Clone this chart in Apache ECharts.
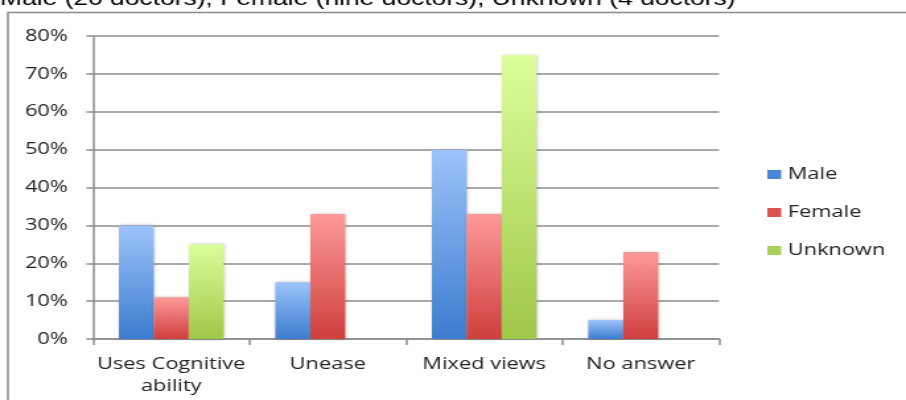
<!DOCTYPE html>
<html><head><meta charset="utf-8">
<script src="https://cdn.jsdelivr.net/npm/echarts@6/dist/echarts.min.js"></script>
<style>
html,body{margin:0;padding:0;background:#fff;overflow:hidden;width:906px;height:400px}
/* reference image is horizontally stretched; reproduce by scaling the chart canvas */
#c{position:absolute;left:0;top:0;width:686px;height:400px;transform:scaleX(1.3207);transform-origin:0 0}
</style>
</head><body><div id="c"></div>
<script>
var categories = ['Uses Cognitive\nability', 'Unease', 'Mixed views', 'No answer'];
var seriesNames = ['Male', 'Female', 'Unknown'];
var maleValues = [30, 15, 50, 5];
var femaleValues = [11, 33, 33, 23];
var unknownValues = [25, null, 75, null];
var yTicks = [0, 10, 20, 30, 40, 50, 60, 70, 80];
var titleText = 'Male (20 doctors), Female (nine doctors), Unknown (4 doctors)';

var font = '"Open Sans", Lato, sans-serif';
function grad(top, bottom) {
  return new echarts.graphic.LinearGradient(0, 0, 0, 1, [
    {offset: 0, color: top}, {offset: 1, color: bottom}
  ]);
}
var fills = [grad('#9dc3fa', '#3c7ccf'), grad('#fd9a99', '#cf3f3d'), grad('#dcfe9b', '#9fc748')];
var legendColors = ['#4a86d8', '#d9534f', '#a8d05a'];
var allValues = [maleValues, femaleValues, unknownValues];

var chart = echarts.init(document.getElementById('c'), null, {renderer: 'canvas'});
chart.setOption({
  animation: false,
  backgroundColor: '#fff',
  graphic: [
    {type: 'rect', shape: {x: 6, y: 12.5, width: 1000, height: 500},
     style: {fill: 'none', stroke: '#8a8a8a', lineWidth: 1.5}, z: 0},
    {type: 'text', left: 0, top: -11,
     style: {text: titleText, font: '20px "Liberation Sans", Arial, sans-serif', fill: '#000'}, z: 10}
  ],
  legend: {
    orient: 'vertical', left: 576, top: 161,
    itemWidth: 10.5, itemHeight: 9, itemGap: 21,
    icon: 'rect',
    textStyle: {fontFamily: font, fontSize: 16.5, color: '#222'},
    data: seriesNames.map(function (n, i) { return {name: n, itemStyle: {color: legendColors[i]}}; })
  },
  grid: {left: 70.4, right: 141.6, top: 36, bottom: 61, containLabel: false},
  xAxis: {
    type: 'category', data: categories,
    axisLine: {lineStyle: {color: '#8c8c8c', width: 1.5}},
    axisTick: {show: true, length: 6, lineStyle: {color: '#8c8c8c', width: 1.5}},
    axisLabel: {fontFamily: font, fontSize: 16.5, color: '#222', margin: 14, lineHeight: 22, interval: 0}
  },
  yAxis: {
    type: 'value', min: 0, max: 80, interval: 10,
    axisLine: {show: true, lineStyle: {color: '#8c8c8c', width: 1.5}},
    axisTick: {show: true, length: 5, lineStyle: {color: '#8c8c8c', width: 1.5}},
    splitLine: {lineStyle: {color: '#8c8c8c', width: 1.5}},
    axisLabel: {fontFamily: font, fontSize: 16.5, color: '#222', margin: 19,
      formatter: function (v) { return yTicks.indexOf(v) >= 0 ? v + '%' : ''; }}
  },
  series: seriesNames.map(function (n, i) {
    return {
      name: n, type: 'bar', data: allValues[i],
      barGap: '0%', barCategoryGap: '33%',
      itemStyle: {color: fills[i], shadowBlur: 3, shadowColor: 'rgba(0,0,0,0.25)', shadowOffsetX: 1}
    };
  })
});
</script></body></html>
